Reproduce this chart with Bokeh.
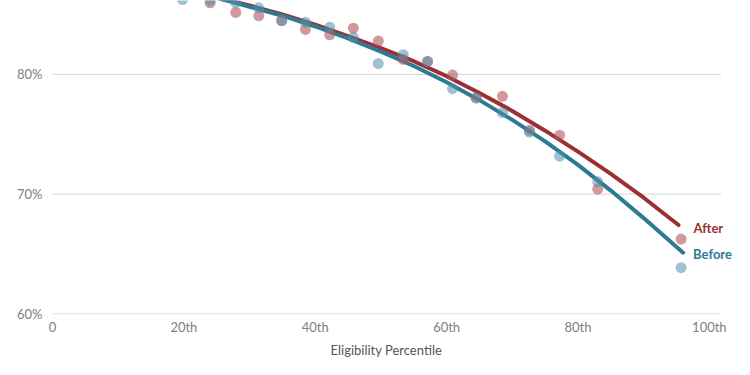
from bokeh.plotting import figure
from bokeh.models import FixedTicker, PrintfTickFormatter, Range1d, Label, Title
from bokeh.embed import file_html
from bokeh.resources import INLINE

# Scatter data (eligibility percentile, share %)
before_x = [19.8, 24.0, 27.9, 31.4, 34.9, 38.5, 42.2, 45.8, 49.6, 53.4, 57.1, 60.9, 64.5, 68.5, 72.6, 77.2, 83.0, 95.7]
before_y = [86.25, 86.2, 85.98, 85.56, 84.5, 84.36, 83.94, 83.1, 80.9, 81.64, 81.08, 78.81, 78.03, 76.81, 75.19, 73.17, 71.03, 63.86]

after_x = [24.0, 27.9, 31.4, 34.9, 38.5, 42.2, 45.8, 49.6, 53.4, 57.1, 60.9, 64.5, 68.5, 72.6, 77.2, 83.0, 95.7]
after_y = [85.98, 85.17, 84.89, 84.5, 83.75, 83.31, 83.86, 82.78, 81.25, 81.08, 79.94, 78.03, 78.17, 75.33, 74.92, 70.42, 66.25]

# Fitted trend lines
after_line_x = [24, 27, 30, 35, 40, 45, 50, 55, 60, 65, 70, 75, 80, 85, 90, 95.3]
after_line_y = [86.55, 86.15, 85.75, 85.0, 84.15, 83.2, 82.2, 81.1, 79.85, 78.45, 76.95, 75.3, 73.55, 71.7, 69.7, 67.42]

before_line_x = [24, 27, 30, 35, 40, 45, 50, 55, 60, 65, 70, 75, 80, 85, 90, 96.0]
before_line_y = [86.5, 86.1, 85.65, 84.9, 84.0, 83.0, 81.9, 80.7, 79.35, 77.85, 76.2, 74.4, 72.45, 70.3, 68.0, 65.11]

x_ticks = [0, 20, 40, 60, 80, 100]
x_tick_labels = ["0", "20th", "40th", "60th", "80th", "100th"]
y_ticks = [60, 70, 80]
x_title = "Eligibility Percentile"

RED_LINE = "#9b3034"
TEAL_LINE = "#2e7a93"
RED_DOT = "#b0565c"
BLUE_DOT = "#4f8fab"
FONT = "Lato"

X_MAX = 105.5      # frame extent (room for the end labels)
GRID_END = 101.8   # gridlines stop here

p = figure(width=750, height=375, x_range=Range1d(0, X_MAX), y_range=Range1d(59.95, 86.17),
           output_backend="svg", toolbar_location=None,
           min_border_left=52, min_border_right=5, min_border_top=0, min_border_bottom=61)
p.outline_line_color = None
p.background_fill_color = "white"
p.border_fill_color = "white"

p.xgrid.grid_line_color = None
p.ygrid.grid_line_color = None

# horizontal gridlines
p.segment(x0=[0] * len(y_ticks), y0=y_ticks, x1=[GRID_END] * len(y_ticks), y1=y_ticks,
          line_color="#d6d6d6", line_width=1)

# axes
p.xaxis.ticker = FixedTicker(ticks=x_ticks)
p.xaxis.major_label_overrides = {t: l for t, l in zip(x_ticks, x_tick_labels)}
p.yaxis.ticker = FixedTicker(ticks=y_ticks)
p.yaxis.formatter = PrintfTickFormatter(format="%d%%")
for ax in (p.xaxis, p.yaxis):
    ax.axis_line_color = None
    ax.major_tick_line_color = None
    ax.minor_tick_line_color = None
    ax.major_tick_out = 0
    ax.major_tick_in = 0
    ax.minor_tick_out = 0
    ax.minor_tick_in = 0
    ax.major_label_text_font = FONT
    ax.major_label_text_font_size = "13px"
    ax.major_label_text_color = "#808080"
p.yaxis.major_label_standoff = 10
p.xaxis.major_label_standoff = 4

# x-axis title, centred on the gridded area
p.add_layout(Title(text=x_title, align="left", offset=278, text_font=FONT,
                   text_font_size="13px", text_font_style="normal", text_color="#555555",
                   standoff=5), "below")

# trend lines
p.line(after_line_x, after_line_y, line_color=RED_LINE, line_width=4, line_cap="round", line_join="round")
p.line(before_line_x, before_line_y, line_color=TEAL_LINE, line_width=4, line_cap="round", line_join="round")

# dots
p.scatter(after_x, after_y, size=11, fill_color=RED_DOT, fill_alpha=0.6, line_color=None)
p.scatter(before_x, before_y, size=11, fill_color=BLUE_DOT, fill_alpha=0.55, line_color=None)

# end labels
p.add_layout(Label(x=after_line_x[-1], y=after_line_y[-1], text="After", x_offset=15, y_offset=-3,
                   text_font=FONT, text_font_style="bold", text_font_size="13px",
                   text_color=RED_LINE, text_baseline="middle", text_align="left"))
p.add_layout(Label(x=before_line_x[-1], y=before_line_y[-1], text="Before", x_offset=10, y_offset=-1,
                   text_font=FONT, text_font_style="bold", text_font_size="13px",
                   text_color=TEAL_LINE, text_baseline="middle", text_align="left"))

open("out.html", "w").write(file_html(p, INLINE))
